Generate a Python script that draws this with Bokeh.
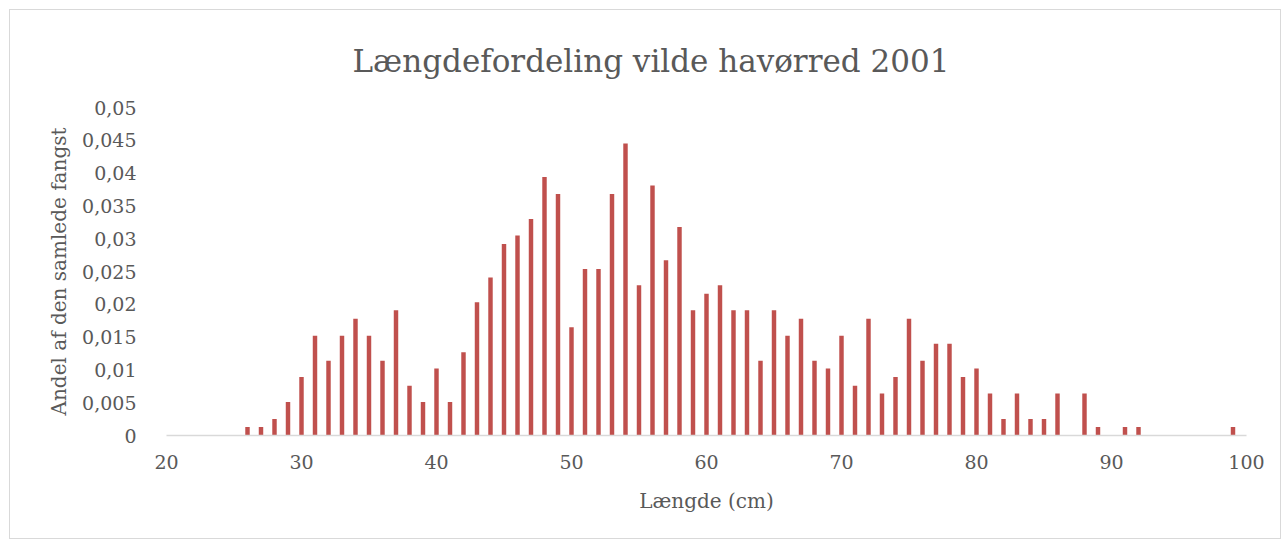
from bokeh.plotting import figure
from bokeh.models import Range1d, FixedTicker
from bokeh.embed import file_html
from bokeh.resources import INLINE

# Data
lengths = [26, 27, 28, 29, 30, 31, 32, 33, 34, 35, 36, 37, 38, 39, 40, 41, 42, 43, 44, 45,
           46, 47, 48, 49, 50, 51, 52, 53, 54, 55, 56, 57, 58, 59, 60, 61, 62, 63, 64, 65,
           66, 67, 68, 69, 70, 71, 72, 73, 74, 75, 76, 77, 78, 79, 80, 81, 82, 83, 84, 85,
           86, 88, 89, 91, 92, 99]
shares = [0.0013, 0.0013, 0.0025, 0.0051, 0.0089, 0.0152, 0.0114, 0.0152, 0.0178, 0.0152,
          0.0114, 0.0191, 0.0076, 0.0051, 0.0102, 0.0051, 0.0127, 0.0203, 0.0241, 0.0292,
          0.0305, 0.0330, 0.0394, 0.0368, 0.0165, 0.0254, 0.0254, 0.0368, 0.0445, 0.0229,
          0.0381, 0.0267, 0.0318, 0.0191, 0.0216, 0.0229, 0.0191, 0.0191, 0.0114, 0.0191,
          0.0152, 0.0178, 0.0114, 0.0102, 0.0152, 0.0076, 0.0178, 0.0064, 0.0089, 0.0178,
          0.0114, 0.0140, 0.0140, 0.0089, 0.0102, 0.0064, 0.0025, 0.0064, 0.0025, 0.0025,
          0.0064, 0.0064, 0.0013, 0.0013, 0.0013, 0.0013]
x_ticks = [20, 30, 40, 50, 60, 70, 80, 90, 100]
y_ticks = [0, 0.005, 0.01, 0.015, 0.02, 0.025, 0.03, 0.035, 0.04, 0.045, 0.05]
y_tick_labels = ["0", "0,005", "0,01", "0,015", "0,02", "0,025", "0,03", "0,035", "0,04", "0,045", "0,05"]

title_text = "Længdefordeling vilde havørred 2001"
x_title = "Længde (cm)"
y_title = "Andel af den samlede fangst"

FONT = "DejaVu Serif"
GREY = "#595959"

p = figure(width=1272, height=530, output_backend="svg", toolbar_location=None,
           x_range=Range1d(20, 100), y_range=Range1d(0, 0.05),
           min_border_left=156, min_border_right=36, min_border_top=97, min_border_bottom=105,
           title=title_text)
p.styles = {"border": "1px solid #d9d9d9", "margin-left": "9px", "margin-top": "9px"}
p.outline_line_color = None
p.grid.visible = False

p.vbar(x=lengths, top=shares, width=0.33, color="#c0504d", line_color=None)

p.title.text_font = FONT
p.title.text_font_size = "31px"
p.title.text_font_style = "normal"
p.title.text_color = GREY
p.title.align = "left"
p.title.offset = 186
p.title.standoff = 58

xa = p.xaxis[0]
xa.ticker = FixedTicker(ticks=x_ticks)
xa.axis_line_color = "#d9d9d9"
xa.axis_line_width = 1.5
xa.major_tick_line_color = None
xa.minor_tick_line_color = None
xa.major_label_text_font = FONT
xa.major_label_text_font_size = "19px"
xa.major_label_text_color = GREY
xa.major_label_standoff = 13
xa.axis_label = x_title
xa.axis_label_text_font = FONT
xa.axis_label_text_font_size = "20px"
xa.axis_label_text_font_style = "normal"
xa.axis_label_text_color = GREY
xa.axis_label_standoff = 17

ya = p.yaxis[0]
ya.ticker = FixedTicker(ticks=y_ticks)
ya.major_label_overrides = dict(zip(y_ticks, y_tick_labels))
ya.axis_line_color = None
ya.major_tick_line_color = None
ya.minor_tick_line_color = None
ya.major_label_text_font = FONT
ya.major_label_text_font_size = "19px"
ya.major_label_text_color = GREY
ya.major_label_standoff = 24
ya.axis_label = y_title
ya.axis_label_text_font = FONT
ya.axis_label_text_font_size = "20px"
ya.axis_label_text_font_style = "normal"
ya.axis_label_text_color = GREY
ya.axis_label_standoff = 8

open("out.html", "w").write(file_html(p, INLINE))
